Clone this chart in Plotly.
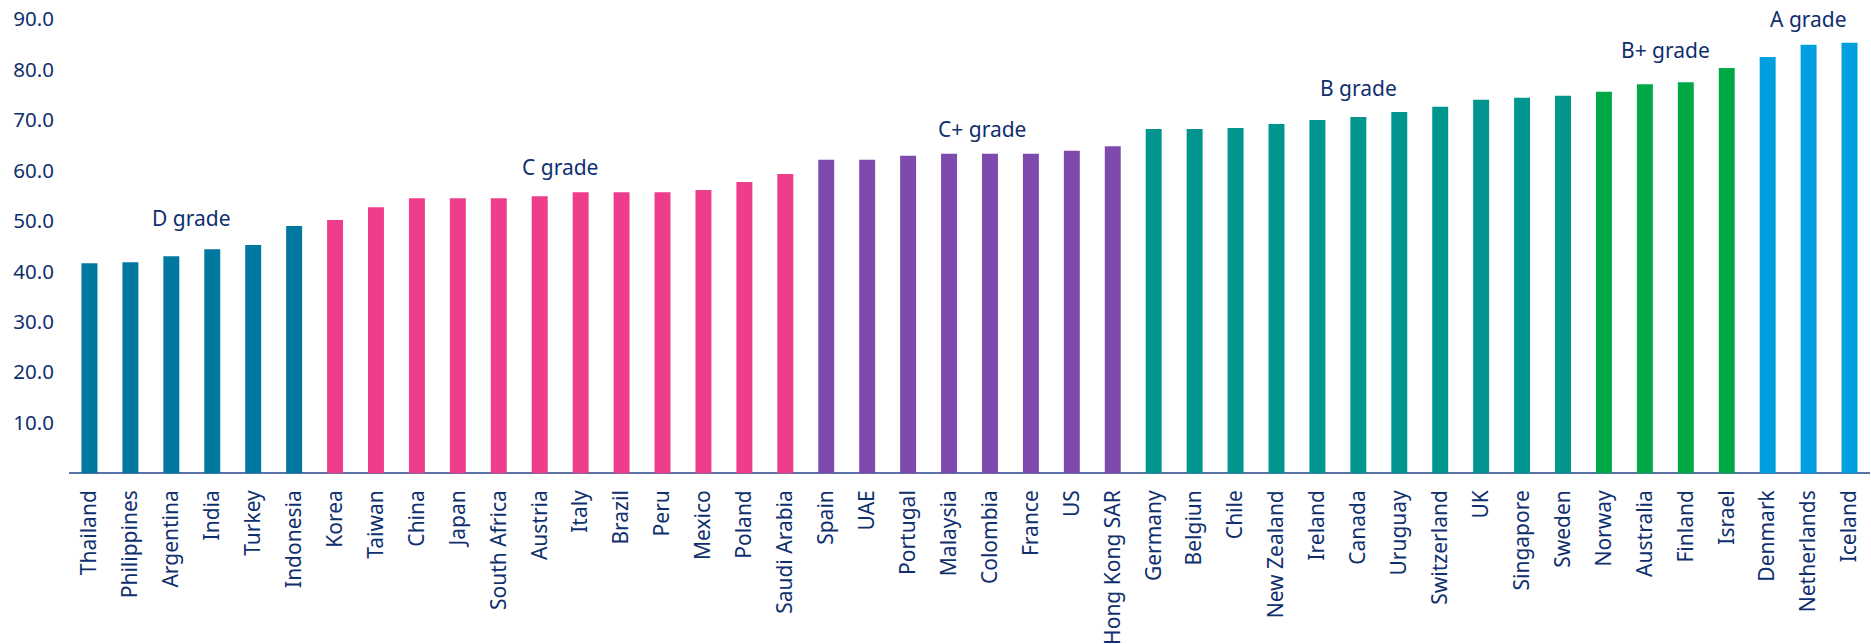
import plotly.graph_objects as go

countries = ["Thailand", "Philippines", "Argentina", "India", "Turkey", "Indonesia",
             "Korea", "Taiwan", "China", "Japan", "South Africa", "Austria", "Italy",
             "Brazil", "Peru", "Mexico", "Poland", "Saudi Arabia",
             "Spain", "UAE", "Portugal", "Malaysia", "Colombia", "France", "US", "Hong Kong SAR",
             "Germany", "Belgiun", "Chile", "New Zealand", "Ireland", "Canada", "Uruguay",
             "Switzerland", "UK", "Singapore", "Sweden",
             "Norway", "Australia", "Finland", "Israel",
             "Denmark", "Netherlands", "Iceland"]
scores = [41.6, 41.8, 43.0, 44.4, 45.2, 49.0,
          50.2, 52.7, 54.5, 54.5, 54.5, 54.9, 55.7,
          55.7, 55.7, 56.1, 57.7, 59.3,
          62.1, 62.1, 62.9, 63.3, 63.3, 63.3, 63.9, 64.8,
          68.2, 68.2, 68.4, 69.2, 70.0, 70.6, 71.6,
          72.6, 74.0, 74.4, 74.8,
          75.6, 77.1, 77.5, 80.3,
          82.5, 84.9, 85.3]
grades = ["D"] * 6 + ["C"] * 12 + ["C+"] * 8 + ["B"] * 11 + ["B+"] * 4 + ["A"] * 3

grade_names = ["D", "C", "C+", "B", "B+", "A"]
grade_labels = ["D grade", "C grade", "C+ grade", "B grade", "B+ grade", "A grade"]
grade_colors = {"D": "#0078a0", "C": "#ee3d8b", "C+": "#7f4aae",
                "B": "#00968f", "B+": "#00a846", "A": "#009fdf"}
label_y = [50.6, 60.6, 68.2, 76.4, 83.8, 90.0]
label_xshift = {"C+": 0.3}

y_ticks = [10, 20, 30, 40, 50, 60, 70, 80, 90]
text_color = "#0f2f6e"
axis_color = "#5b72a6"
font = "Noto Sans"

fig = go.Figure()
fig.add_trace(go.Bar(
    x=list(range(len(countries))),
    y=scores,
    marker=dict(color=[grade_colors[g] for g in grades], line=dict(width=0)),
    hovertext=countries,
))

annotations = []
for g, lab, ly in zip(grade_names, grade_labels, label_y):
    idx = [i for i, gg in enumerate(grades) if gg == g]
    cx = (min(idx) + max(idx)) / 2 + label_xshift.get(g, 0)
    annotations.append(dict(x=cx, y=ly, xref="x", yref="y", text=lab, showarrow=False,
                            xanchor="center", yanchor="middle", borderpad=0,
                            font=dict(family=font, size=21, color=text_color)))

fig.update_layout(
    width=1871, height=644,
    margin=dict(l=68.5, r=0.5, t=14.2, b=167.3, pad=0),
    paper_bgcolor="white", plot_bgcolor="white",
    bargap=0.61,
    showlegend=False,
    annotations=annotations,
    font=dict(family=font, color=text_color, size=21),
)
fig.update_xaxes(
    tickmode="array", tickvals=list(range(len(countries))), ticktext=countries,
    tickangle=-90, range=[-0.5, len(countries) - 0.5],
    showgrid=False, zeroline=False, showline=False, ticks="",
    tickfont=dict(family=font, size=21, color=text_color),
    ticklabelstandoff=8,
)
fig.update_yaxes(
    range=[-0.75, 91], tickmode="array", tickvals=y_ticks,
    ticktext=[f"{v:.1f}" for v in y_ticks],
    showgrid=False, showline=False, ticks="",
    zeroline=True, zerolinecolor=axis_color, zerolinewidth=2,
    tickfont=dict(family=font, size=20.5, color=text_color),
    ticklabelstandoff=14, ticklabeloverflow="allow",
)

fig.write_html("out.html",
               config={"displayModeBar": False},
               post_script="document.body.style.margin='0px';document.body.style.overflow='hidden';")
